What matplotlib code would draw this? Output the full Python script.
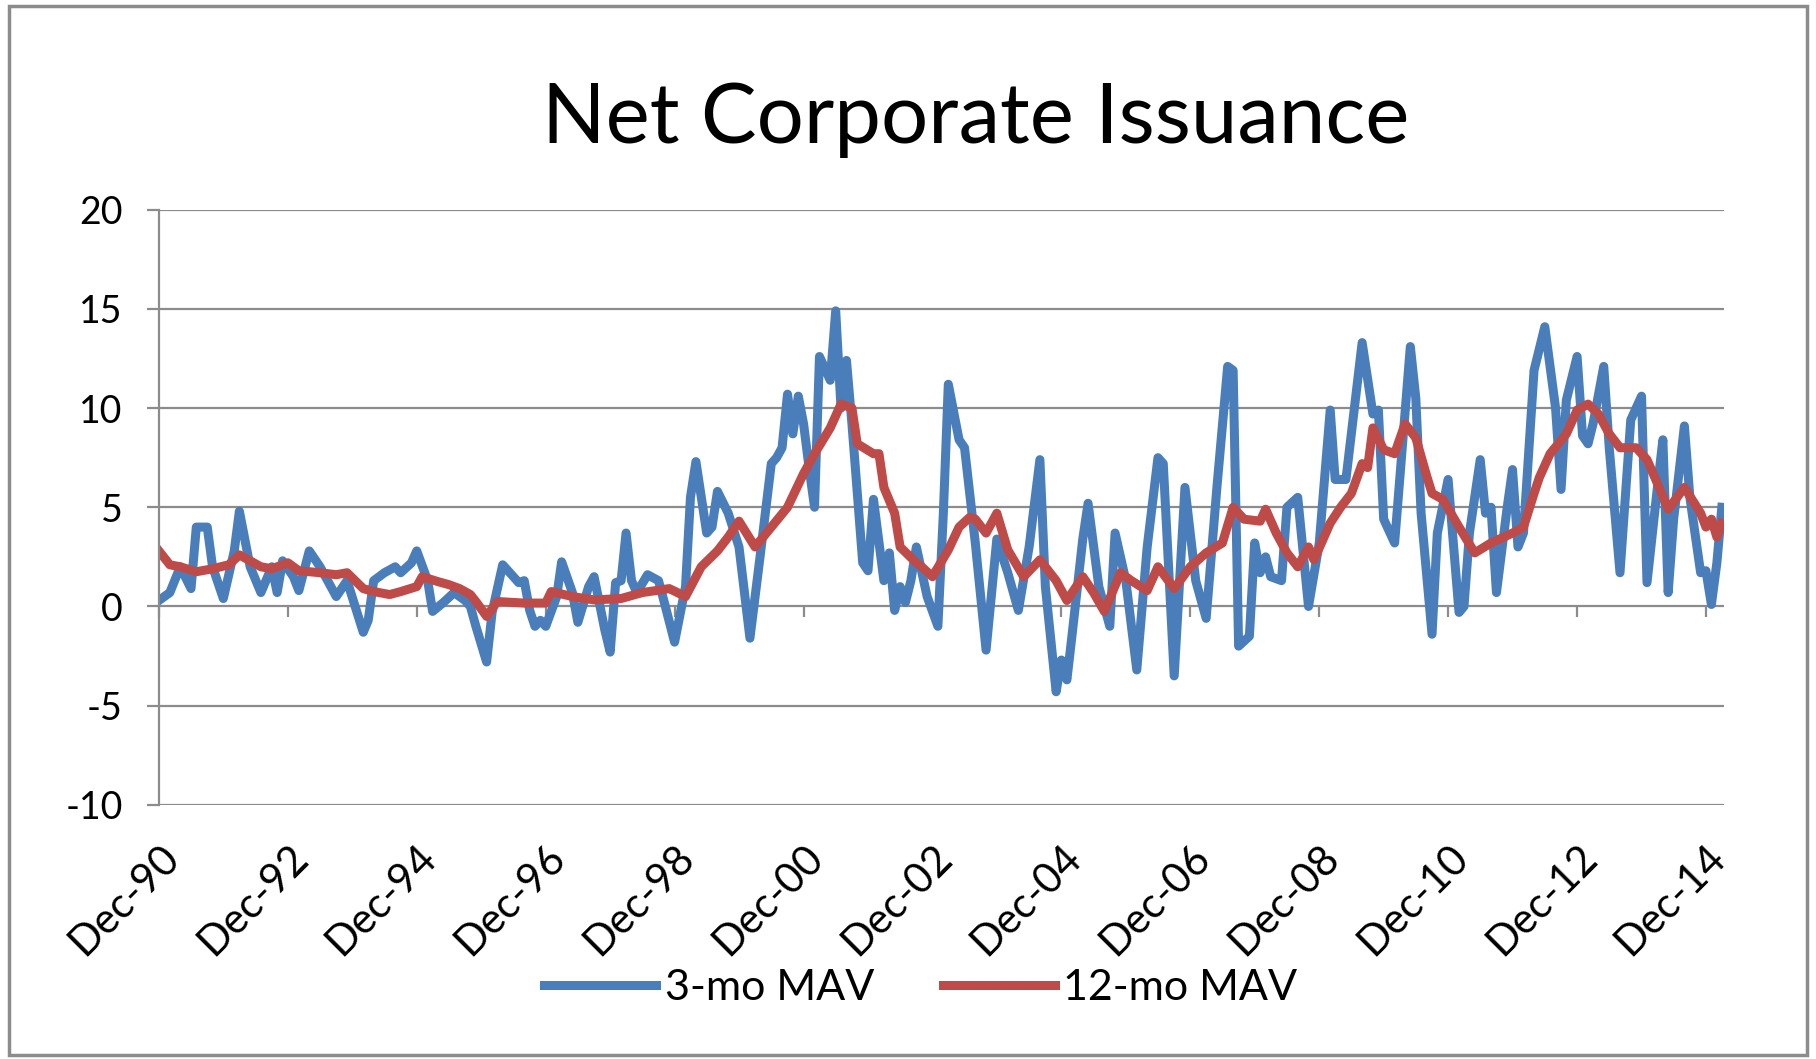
import matplotlib
matplotlib.use("Agg")
import matplotlib.pyplot as plt
import matplotlib.dates as mdates
from matplotlib.patches import Rectangle
import numpy as np

plt.rcParams['font.family'] = ['Lato', 'DejaVu Sans']
plt.rcParams['axes.unicode_minus'] = False

# months counted from Dec-90
blue_month = [0, 2, 4, 6, 7, 9, 10, 12, 14, 15, 17, 19, 21, 22, 23, 25, 26, 28, 30, 33,
              35, 38, 39, 40, 42, 44, 45, 47, 48, 50, 51, 53, 55, 57, 58, 59, 61, 62, 64, 66,
              67, 68, 69, 70, 71, 72, 74, 75, 77, 78, 80, 81, 83, 84, 85, 86, 87, 88, 89, 91,
              93, 94, 96, 98, 99, 100, 102, 103, 104, 106, 108, 110, 112, 114, 115, 116, 117, 118, 119, 120,
              121, 122, 123, 125, 126, 127, 128, 129, 131, 132, 133, 135, 136, 137, 138, 139, 140, 141, 143, 145,
              146, 147, 149, 150, 152, 154, 156, 158, 160, 162, 164, 165, 167, 168, 169, 170, 172, 173, 175, 177,
              178, 180, 182, 184, 186, 187, 189, 191, 193, 195, 197, 199, 200, 201, 203, 204, 205, 206, 207, 209,
              210, 212, 214, 216, 218, 219, 221, 224, 226, 227, 228, 230, 233, 234, 235, 237, 238, 240, 242, 243,
              244, 246, 247, 248, 249, 251, 252, 253, 254, 256, 258, 260, 261, 262, 264, 265, 266, 267, 269, 270,
              272, 274, 276, 277, 279, 280, 281, 282, 284, 285, 287, 288, 289, 290, 291]
blue_val = [0.3, 0.7, 2.0, 0.9, 4.0, 4.0, 2.0, 0.4, 2.8, 4.8, 2.0, 0.7, 2.0, 0.7, 2.3, 1.5, 0.8, 2.8, 2.0, 0.5,
            1.3, -1.3, -0.7, 1.3, 1.7, 2.0, 1.7, 2.2, 2.8, 1.3, -0.25, 0.2, 0.7, 0.3, 0.0, -1.0, -2.8, -0.3, 2.1, 1.5,
            1.2, 1.3, -0.2, -1.0, -0.7, -1.0, 0.5, 2.25, 0.7, -0.8, 1.0, 1.5, -1.2, -2.3, 1.2, 1.3, 3.7, 1.3, 0.7, 1.6,
            1.3, 0.3, -1.8, 1.0, 5.5, 7.3, 3.7, 4.0, 5.8, 4.7, 3.0, -1.6, 2.7, 7.2, 7.5, 8.0, 10.7, 8.7, 10.6, 9.2,
            7.0, 5.0, 12.6, 11.4, 14.9, 10.0, 12.4, 9.2, 2.2, 1.8, 5.4, 1.3, 2.7, -0.2, 1.0, 0.2, 1.3, 3.0, 0.5, -1.0,
            4.7, 11.2, 8.4, 8.0, 3.2, -2.2, 3.4, 1.7, -0.2, 3.0, 7.4, 1.0, -4.3, -2.7, -3.7, -1.3, 3.4, 5.2, 1.0, -1.0,
            3.7, 1.3, -3.2, 3.0, 7.5, 7.2, -3.5, 6.0, 1.3, -0.6, 6.0, 12.1, 11.9, -2.0, -1.5, 3.2, 1.7, 2.5, 1.5, 1.3,
            5.0, 5.5, 0.0, 3.2, 9.9, 6.4, 6.4, 13.3, 9.7, 9.9, 4.4, 3.2, 13.1, 10.5, 4.7, -1.4, 3.7, 6.4, -0.3, 0.0,
            3.7, 7.4, 4.7, 5.0, 0.7, 5.0, 6.9, 3.0, 3.7, 11.9, 14.1, 10.0, 5.9, 10.4, 12.6, 8.6, 8.2, 9.2, 12.1, 8.0,
            1.7, 9.4, 10.6, 1.2, 6.0, 8.4, 0.7, 4.4, 9.1, 5.5, 1.7, 1.8, 0.1, 2.2, 5.0]

red_month = [0, 2, 4, 7, 10, 13, 15, 17, 19, 21, 22, 24, 26, 28, 30, 33, 35, 38, 40, 43,
             45, 48, 49, 52, 54, 56, 58, 59, 61, 63, 68, 72, 73, 77, 81, 86, 90, 95, 98, 101,
             104, 106, 108, 111, 114, 117, 120, 122, 125, 127, 129, 130, 133, 134, 135, 137, 138, 141, 142, 144,
             147, 149, 151, 152, 154, 156, 158, 161, 164, 167, 169, 172, 174, 176, 179, 181, 184, 186, 189, 192,
             195, 198, 200, 202, 205, 206, 208, 210, 212, 214, 215, 218, 220, 222, 224, 225, 226, 228, 230, 232,
             234, 236, 237, 239, 242, 245, 248, 252, 254, 256, 257, 259, 262, 264, 266, 268, 270, 272, 275, 277,
             279, 281, 284, 287, 288, 289, 290, 291]
red_val = [2.8, 2.1, 2.0, 1.75, 1.9, 2.1, 2.6, 2.3, 2.0, 1.9, 2.0, 2.2, 1.8, 1.75, 1.7, 1.6, 1.7, 0.9, 0.75, 0.6,
           0.75, 1.0, 1.5, 1.25, 1.1, 0.9, 0.6, 0.25, -0.5, 0.25, 0.17, 0.17, 0.75, 0.5, 0.33, 0.4, 0.7, 0.9, 0.5, 2.0,
           2.8, 3.5, 4.3, 3.0, 4.0, 5.0, 6.7, 7.7, 9.0, 10.2, 10.0, 8.2, 7.7, 7.7, 6.0, 4.7, 3.0, 2.2, 2.0, 1.5,
           2.85, 4.0, 4.5, 4.4, 3.7, 4.7, 2.85, 1.5, 2.35, 1.3, 0.3, 1.5, 0.7, -0.25, 1.7, 1.3, 0.8, 2.0, 0.9, 2.0,
           2.7, 3.2, 5.0, 4.4, 4.3, 4.9, 3.7, 2.7, 2.0, 3.0, 2.35, 4.2, 5.0, 5.7, 7.2, 7.0, 9.0, 7.9, 7.7, 9.2,
           8.5, 6.6, 5.7, 5.4, 4.0, 2.7, 3.2, 3.7, 4.0, 5.7, 6.5, 7.7, 8.7, 9.9, 10.2, 9.7, 8.7, 8.0, 8.0, 7.4,
           6.2, 4.9, 6.0, 4.7, 4.0, 4.4, 3.5, 4.2]

start = np.datetime64('1990-12')
blue_dates = (start + np.array(blue_month)).astype('datetime64[D]')
red_dates = (start + np.array(red_month)).astype('datetime64[D]')
tick_dates = np.arange(start, np.datetime64('2015-01'), 24).astype('datetime64[D]')

grid_c = '#8C8C8C'

fig = plt.figure(figsize=(18.16, 10.59), dpi=100)
ax = fig.add_axes([0.0875, 0.24, 0.862, 0.562])

ax.plot(blue_dates, blue_val, color='#4A7EBB', lw=6.5, label='3-mo MAV', solid_joinstyle='round')
ax.plot(red_dates, red_val, color='#BE4B48', lw=6.5, label='12-mo MAV', solid_joinstyle='round')

ax.set_ylim(-10, 20)
ax.set_yticks(np.arange(-10, 21, 5))
ax.set_xlim(np.datetime64('1990-12-01'), np.datetime64('2015-03-15'))
ax.set_xticks(tick_dates)
ax.xaxis.set_major_formatter(mdates.DateFormatter('%b-%y'))

ax.grid(axis='y', color=grid_c, lw=1.6)
ax.set_axisbelow(True)
for s in ['top', 'right', 'bottom']:
    ax.spines[s].set_visible(False)
ax.spines['left'].set_color(grid_c)
ax.spines['left'].set_linewidth(1.6)

ax.tick_params(axis='y', length=9, width=1.6, color=grid_c, labelsize=27, pad=17)
ax.tick_params(axis='x', length=0, labelsize=30, pad=24)
for lab in ax.get_xticklabels():
    lab.set_rotation(45)
    lab.set_ha('right')
    lab.set_rotation_mode('anchor')

# category axis crossing at zero, with its small tick marks
sec = ax.secondary_xaxis(1 / 3)
sec.set_xticks(tick_dates)
sec.xaxis.set_ticks_position('bottom')
sec.tick_params(axis='x', direction='out', length=8, width=1.6, color=grid_c, labelbottom=False, labeltop=False)
sec.spines['bottom'].set_visible(False)
sec.spines['top'].set_visible(False)

fig.text(0.537, 0.887, 'Net Corporate Issuance', ha='center', va='center', fontsize=60)

fig.legend(loc='center', bbox_to_anchor=(0.507, 0.067), ncol=2, frameon=False,
           fontsize=31, handlelength=2.6, columnspacing=1.6, handletextpad=0.2)

fig.patches.append(Rectangle((0.005, 0.004), 0.99, 0.99, transform=fig.transFigure,
                             fill=False, edgecolor='#8C8C8C', lw=2.5))

fig.savefig('out.png', dpi=100)
